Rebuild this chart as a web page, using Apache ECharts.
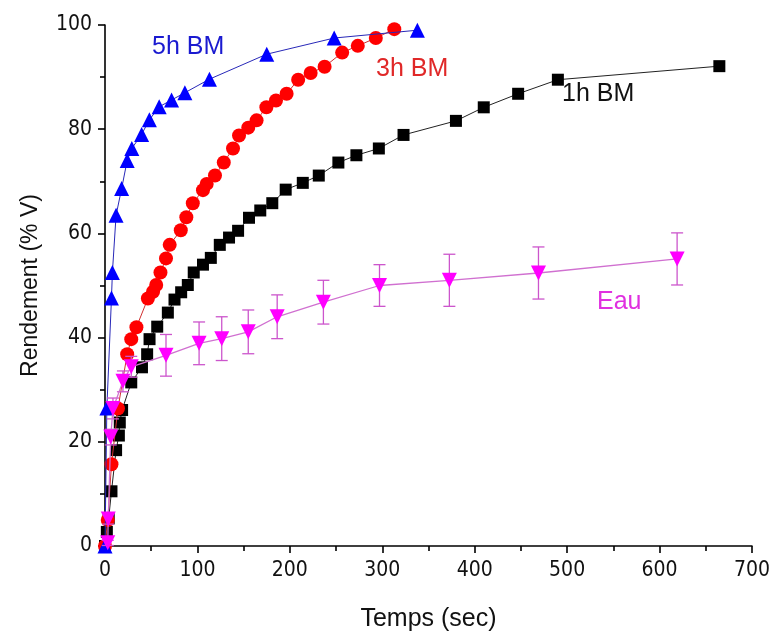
<!DOCTYPE html>
<html>
<head>
<meta charset="utf-8">
<script src="https://cdn.jsdelivr.net/npm/echarts@6/dist/echarts.min.js"></script>
<style>
html,body{margin:0;padding:0;background:#fff;}
#main{width:773px;height:637px;}
</style>
</head>
<body>
<div id="main"></div>
<script>
// ---- data (time in sec, yield in % V) ----
const bm1hTime = [0, 2, 4, 7, 12, 15, 16, 18.5, 28.4, 40, 45.6, 48.2, 56.5, 68, 75.2, 82.4, 89.6, 96, 106, 114.5, 124.2, 134.2, 144, 155.8, 168, 181, 195.5, 214, 231.3, 252.5, 272, 296.3, 323, 379.7, 409.8, 447, 490, 664.7];
const bm1hYield = [0, 2.7, 5.3, 10.5, 18.4, 21.2, 23.7, 26.1, 31.4, 34.3, 36.8, 39.7, 42.1, 44.8, 47.3, 48.7, 50.1, 52.5, 54.0, 55.3, 57.8, 59.2, 60.5, 63.0, 64.4, 65.8, 68.4, 69.7, 71.1, 73.6, 75.0, 76.3, 78.9, 81.6, 84.2, 86.8, 89.5, 92.1];

const bm3hTime = [0, 3, 7, 14, 24, 28.4, 34, 46.4, 52, 55.4, 60, 66, 70, 82, 88, 95, 106, 110, 119, 128.5, 138.5, 145, 155, 164, 174.6, 185, 196.5, 209, 222.5, 237.6, 256.6, 273.5, 293, 313];
const bm3hYield = [0, 5, 15.7, 26.4, 36.8, 39.7, 42.0, 47.5, 48.8, 50.1, 52.5, 55.2, 57.8, 60.6, 63.1, 65.8, 68.3, 69.5, 71.1, 73.6, 76.3, 78.8, 80.3, 81.7, 84.2, 85.5, 86.8, 89.5, 90.8, 92.0, 94.7, 96.0, 97.5, 99.2];

const bm5hTime = [0, 2, 7, 8, 12, 18, 24, 29, 39.6, 48, 58.6, 72, 86.4, 113, 175, 248, 338];
const bm5hYield = [0, 26.5, 47.6, 52.5, 63.5, 68.6, 74.0, 76.3, 79.0, 81.8, 84.3, 85.6, 87.0, 89.6, 94.4, 97.5, 99.0];

const eauTime = [3, 3.5, 6.2, 8.6, 19.4, 28.4, 66, 101.8, 126.3, 155, 186.3, 236.3, 297, 372.6, 469, 619];
const eauYield = [0.6, 5.2, 20.9, 26.4, 31.6, 34.4, 36.6, 38.9, 39.8, 41.1, 44.0, 46.8, 50.0, 51.0, 52.4, 55.1];
const eauError = [0.5, 1, 1.5, 2, 2, 2, 4, 4.1, 4.2, 4.2, 4.2, 4.2, 4.0, 5.0, 5.0, 5.0];

const xTicks = [0, 100, 200, 300, 400, 500, 600, 700];
const yTicks = [0, 20, 40, 60, 80, 100];
const seriesLabels = ['5h BM', '3h BM', '1h BM', 'Eau'];

// ---- build ----
const zip = (a, b) => a.map((v, i) => [v, b[i]]);
const errData = eauTime.map((t, i) => [t, eauYield[i] - eauError[i], eauYield[i] + eauError[i]]);

const chart = echarts.init(document.getElementById('main'), null, {renderer: 'canvas'});
const FONT = '"Liberation Sans", Arial, sans-serif';
const NARROW = '"DejaVu Sans Condensed", "Liberation Sans", sans-serif';

const option = {
  backgroundColor: '#fff',
  animation: false,
  grid: {left: 105, right: 20, top: 25, bottom: 81, containLabel: false},
  xAxis: {
    type: 'value', min: 0, max: 700, interval: 100,
    name: 'Temps (sec)', nameLocation: 'middle', nameGap: 61,
    nameTextStyle: {fontFamily: FONT, fontSize: 25, color: '#111'},
    axisLine: {show: true, lineStyle: {color: '#000', width: 1.6}},
    axisTick: {show: true, inside: false, length: 7, lineStyle: {color: '#000', width: 1.6}},
    minorTick: {show: true, splitNumber: 2, length: 5, lineStyle: {color: '#000', width: 1.6}},
    axisLabel: {fontFamily: NARROW, fontSize: 21, color: '#111', margin: 14,
      formatter: v => xTicks.includes(v) ? String(v) : ''},
    splitLine: {show: false}
  },
  yAxis: {
    type: 'value', min: 0, max: 100, interval: 20,
    name: 'Rendement (% V)', nameLocation: 'middle', nameGap: 63, nameRotate: 90,
    nameTextStyle: {fontFamily: FONT, fontSize: 23, color: '#111'},
    axisLine: {show: true, lineStyle: {color: '#000', width: 1.6}},
    axisTick: {show: true, inside: false, length: 7, lineStyle: {color: '#000', width: 1.6}},
    minorTick: {show: true, splitNumber: 2, length: 5, lineStyle: {color: '#000', width: 1.6}},
    axisLabel: {fontFamily: NARROW, fontSize: 21, color: '#111', margin: 13,
      formatter: v => yTicks.includes(v) ? String(v) : ''},
    splitLine: {show: false}
  },
  series: [
    {
      name: seriesLabels[2], type: 'line', data: zip(bm1hTime, bm1hYield),
      symbol: 'rect', symbolSize: 12,
      lineStyle: {color: '#222', width: 1},
      itemStyle: {color: '#000'}, z: 3
    },
    {
      name: seriesLabels[1], type: 'line', data: zip(bm3hTime, bm3hYield),
      symbol: 'circle', symbolSize: 14,
      lineStyle: {color: '#d03030', width: 1},
      itemStyle: {color: '#ff0000'}, z: 4
    },
    {
      name: seriesLabels[0], type: 'line', data: zip(bm5hTime, bm5hYield),
      symbol: 'triangle', symbolSize: 15,
      lineStyle: {color: '#2828b8', width: 1},
      itemStyle: {color: '#0000ff'}, z: 5
    },
    {
      name: 'err', type: 'custom', data: errData, z: 6,
      renderItem: function (params, api) {
        const x = api.value(0);
        const lo = api.coord([x, api.value(1)]);
        const hi = api.coord([x, api.value(2)]);
        const hw = 6;
        const st = {stroke: '#cc55cc', lineWidth: 1.3};
        return {
          type: 'group',
          children: [
            {type: 'line', shape: {x1: lo[0], y1: lo[1], x2: hi[0], y2: hi[1]}, style: st},
            {type: 'line', shape: {x1: lo[0] - hw, y1: lo[1], x2: lo[0] + hw, y2: lo[1]}, style: st},
            {type: 'line', shape: {x1: hi[0] - hw, y1: hi[1], x2: hi[0] + hw, y2: hi[1]}, style: st}
          ]
        };
      }
    },
    {
      name: seriesLabels[3], type: 'line', data: zip(eauTime, eauYield),
      symbol: 'triangle', symbolRotate: 180, symbolSize: 15,
      lineStyle: {color: '#d070d0', width: 1.3},
      itemStyle: {color: '#ff00ff'}, z: 7
    }
  ],
  graphic: [
    {type: 'text', left: 152, top: 35, style: {text: seriesLabels[0], font: '25px ' + FONT, fill: '#1a1ad0'}},
    {type: 'text', left: 376, top: 57, style: {text: seriesLabels[1], font: '25px ' + FONT, fill: '#e02828'}},
    {type: 'text', left: 562, top: 82, style: {text: seriesLabels[2], font: '25px ' + FONT, fill: '#111'}},
    {type: 'text', left: 597, top: 290, style: {text: seriesLabels[3], font: '25px ' + FONT, fill: '#e030e0'}}
  ]
};
chart.setOption(option);
</script>
</body>
</html>
